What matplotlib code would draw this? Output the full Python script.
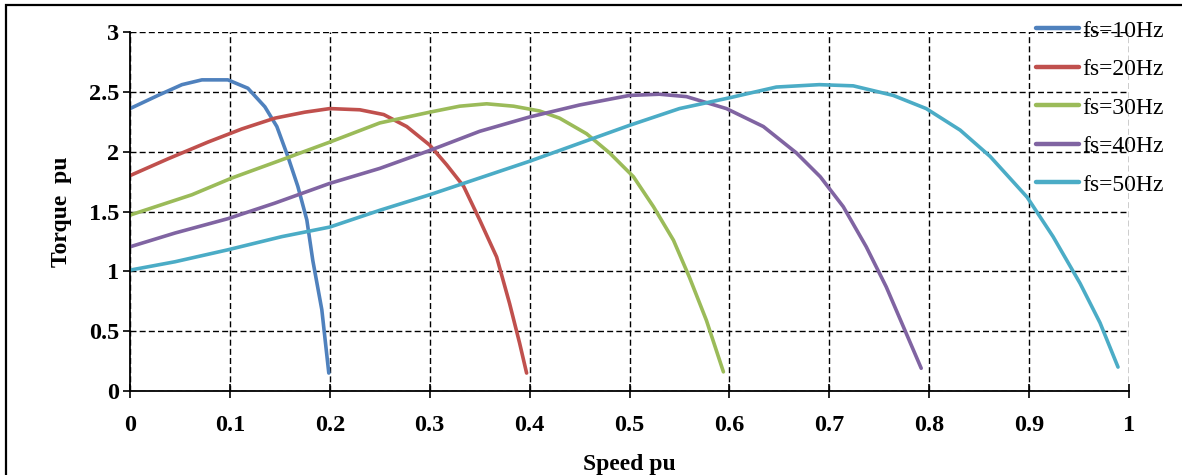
import matplotlib.pyplot as plt
from matplotlib.patches import Rectangle

# speed (pu) / torque (pu)
x10 = [0, 0.028, 0.052, 0.072, 0.098, 0.118, 0.135, 0.147, 0.158, 0.168, 0.177, 0.183, 0.192, 0.199]
y10 = [2.36, 2.47, 2.56, 2.60, 2.60, 2.53, 2.375, 2.21, 1.96, 1.71, 1.43, 1.09, 0.68, 0.15]

x20 = [0, 0.038, 0.078, 0.112, 0.145, 0.175, 0.2, 0.23, 0.254, 0.277, 0.3, 0.317, 0.334, 0.35, 0.367, 0.38, 0.39, 0.397]
y20 = [1.80, 1.94, 2.08, 2.19, 2.28, 2.33, 2.36, 2.35, 2.31, 2.21, 2.055, 1.89, 1.71, 1.43, 1.12, 0.73, 0.40, 0.15]

x30 = [0, 0.062, 0.102, 0.148, 0.2, 0.25, 0.3, 0.33, 0.357, 0.384, 0.41, 0.43, 0.457, 0.48, 0.504, 0.524, 0.544, 0.56, 0.577, 0.594]
y30 = [1.47, 1.64, 1.78, 1.92, 2.08, 2.24, 2.33, 2.38, 2.40, 2.38, 2.34, 2.28, 2.15, 1.99, 1.79, 1.54, 1.26, 0.95, 0.59, 0.16]

x40 = [0, 0.045, 0.098, 0.145, 0.2, 0.25, 0.3, 0.35, 0.4, 0.45, 0.5, 0.53, 0.557, 0.597, 0.634, 0.667, 0.691, 0.714, 0.737, 0.757, 0.774, 0.792]
y40 = [1.205, 1.32, 1.44, 1.57, 1.735, 1.86, 2.01, 2.17, 2.29, 2.39, 2.47, 2.48, 2.46, 2.36, 2.21, 1.99, 1.79, 1.54, 1.205, 0.87, 0.54, 0.19]

x50 = [0, 0.045, 0.098, 0.152, 0.2, 0.25, 0.3, 0.35, 0.4, 0.45, 0.5, 0.55, 0.6, 0.647, 0.69, 0.724, 0.764, 0.797,
       0.831, 0.861, 0.898, 0.924, 0.951, 0.971, 0.989]
y50 = [1.01, 1.08, 1.18, 1.29, 1.37, 1.51, 1.64, 1.78, 1.92, 2.07, 2.22, 2.36, 2.45, 2.54, 2.56, 2.55, 2.47, 2.36,
       2.18, 1.96, 1.62, 1.29, 0.90, 0.57, 0.20]

series = [
    ("fs=10Hz", x10, y10, "#4F81BD"),
    ("fs=20Hz", x20, y20, "#C0504D"),
    ("fs=30Hz", x30, y30, "#9BBB59"),
    ("fs=40Hz", x40, y40, "#8064A2"),
    ("fs=50Hz", x50, y50, "#4BACC6"),
]

xticks = [0, 0.1, 0.2, 0.3, 0.4, 0.5, 0.6, 0.7, 0.8, 0.9, 1]
yticks = [0, 0.5, 1, 1.5, 2, 2.5, 3]

plt.rcParams['font.family'] = ['Liberation Serif', 'DejaVu Serif']

fig = plt.figure(figsize=(11.82, 4.75), dpi=100)
ax = fig.add_axes([130 / 1182, 1 - 391 / 475, 999 / 1182, 359 / 475])

for label, xs, ys, c in series:
    ax.plot(xs, ys, color=c, lw=2.6, label=label, solid_capstyle='round', solid_joinstyle='round')

ax.set_xlim(0, 1)
ax.set_ylim(0, 3)
ax.set_xticks(xticks)
ax.set_yticks(yticks)
ax.set_xticklabels(["%g" % v for v in xticks])
ax.set_yticklabels(["%g" % v for v in yticks])
ax.grid(True, color="black", lw=1, linestyle=(0, (4.3, 2.3)))
ax.set_axisbelow(True)

for s in ["top", "right"]:
    ax.spines[s].set_visible(False)
for s in ["left", "bottom"]:
    ax.spines[s].set_linewidth(1.3)

ax.tick_params(axis="x", direction="inout", length=10, width=1.2, pad=12, labelsize=17.5)
ax.tick_params(axis="y", direction="out", length=5, width=1.2, pad=3, labelsize=17.5)
for t in ax.get_xticklabels() + ax.get_yticklabels():
    t.set_fontweight("bold")

ax.set_xlabel("Speed pu", fontsize=17, fontweight="bold", labelpad=13)
ax.set_ylabel("Torque  pu", fontsize=17, fontweight="bold", labelpad=12)

leg = fig.legend(loc="upper left", bbox_to_anchor=(1036 / 1182, 1 - 20 / 475),
                 frameon=False, fontsize=17, handlelength=1.8, handletextpad=0.17,
                 labelspacing=0.72, borderpad=0, borderaxespad=0)
for h in leg.get_lines():
    h.set_linewidth(3.2)

fig.patches.append(Rectangle((6 / 1182, -0.05), 1.2, 1 - 5 / 475 + 0.05,
                             transform=fig.transFigure, fill=False,
                             edgecolor="black", lw=1.6))

fig.savefig("out.png", dpi=100)
